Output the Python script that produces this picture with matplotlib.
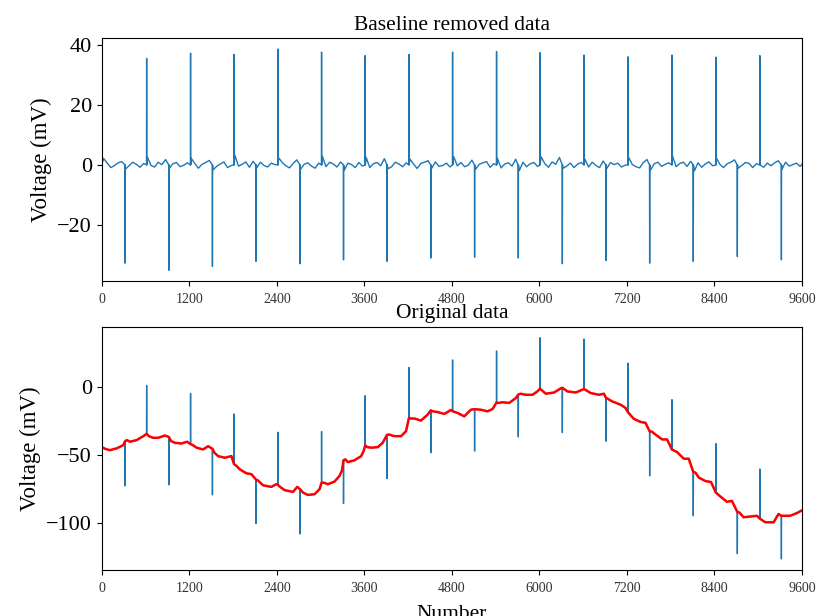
import matplotlib
matplotlib.use('Agg')
import matplotlib.pyplot as plt
import numpy as np

plt.rcParams['font.family'] = 'Liberation Serif'

# spikes in the baseline removed signal (sample number, mV)
pos_x = [0, 616, 1218, 1814, 2416, 3014, 3612, 4213, 4810, 5413, 6008, 6612, 7215, 7818, 8419, 9023]
pos_h = [38.0, 35.7, 37.4, 37.0, 38.8, 37.8, 36.6, 37.0, 37.8, 38.0, 37.6, 36.8, 36.2, 36.8, 36.1, 36.6]
neg_x = [319, 921, 1518, 2115, 2717, 3315, 3912, 4512, 5112, 5711, 6315, 6913, 7512, 8110, 8714, 9318]
neg_h = [-32.9, -35.3, -34.0, -32.3, -33.1, -31.8, -32.3, -31.2, -30.9, -31.2, -33.1, -32.0, -32.9, -32.3, -30.7, -31.8]

# small wiggle between spikes, one value every 50 samples from 25 on
noise_x = np.arange(25, 9600, 50)
noise = [
    2.2, 0.6, -0.9, -0.2, 0.7, 1.1, -1.4, -0.3, 0.9, 0.2, -0.8, 0.5,
    2.7, -0.2, -0.7, 0.9, 0.1, 1.8, -1.2, 0.4, 0.8, -0.6, -0.1, 0.7,
    2.3, 0.5, -1.1, 0.2, 0.8, 1.5, -1.7, -0.5, 0.3, 1.0, -0.9, -0.2,
    3.3, -0.4, 0.2, 1.0, -0.8, 1.2, -1.0, 0.9, -0.2, -0.7, 0.6, 0.1,
    2.4, 0.8, -0.3, -1.0, 0.5, 1.7, -1.5, 0.2, 0.7, -0.4, -1.1, 0.6,
    2.9, -0.6, 0.9, 0.3, -0.7, 1.0, -1.8, 0.6, 0.1, -0.9, 0.8, -0.4,
    2.5, -0.9, 0.4, 0.8, -0.3, 2.1, -1.3, -0.6, 0.9, 0.3, -0.6, 0.7,
    2.0, 0.3, -1.2, 0.5, 0.9, 1.4, -1.1, 1.0, -0.5, -0.2, 0.6, -0.7,
    2.8, -0.3, 0.8, -0.6, -0.1, 1.6, -1.5, 0.2, 0.7, 1.1, -0.8, 0.4,
    2.2, -1.0, 0.3, 0.7, -0.4, 1.9, -1.9, 0.9, -0.6, 0.4, 0.8, -0.5,
    2.7, 0.4, -0.8, 1.0, 0.2, 2.5, -1.1, -0.4, 0.6, -0.9, 0.3, 0.8,
    1.9, -0.7, 0.9, -0.2, -0.9, 1.3, -1.2, 0.8, 0.1, 0.6, -0.7, -0.1,
    2.5, 0.1, -0.6, -1.0, 0.8, 1.8, -1.7, 0.4, 0.9, -0.5, 0.2, 0.7,
    3.0, -0.6, 0.5, 0.9, -0.5, 1.2, -2.0, 0.7, -0.8, 0.3, 1.0, -0.3,
    2.4, 0.2, -0.9, 0.4, 0.9, 1.7, -1.1, -0.2, 0.8, 0.5, -0.9, 0.4,
    2.7, -0.8, 0.6, -0.3, 0.7, 1.4, -1.5, 0.9, -0.4, 0.1, 0.6, -0.5,
]

# estimated baseline of the original recording
base_x = [0, 60, 114, 205, 296, 319, 345, 387, 479, 570, 616, 650, 706, 774, 866, 921, 950,
          1003, 1094, 1171, 1218, 1250, 1300, 1390, 1458, 1518, 1545, 1595, 1687, 1778, 1814,
          1840, 1892, 1984, 2052, 2115, 2140, 2211, 2325, 2394, 2416, 2450, 2508, 2622, 2681,
          2717, 2760, 2826, 2918, 2986, 3014, 3040, 3100, 3191, 3260, 3295, 3315, 3340, 3374,
          3465, 3557, 3590, 3612, 3640, 3694, 3784, 3852, 3912, 3940, 4012, 4104, 4172, 4213,
          4240, 4286, 4377, 4468, 4512, 4540, 4605, 4696, 4788, 4810, 4879, 4970, 5061, 5112,
          5198, 5289, 5358, 5413, 5440, 5494, 5586, 5677, 5711, 5740, 5814, 5905, 5973, 6008,
          6088, 6202, 6293, 6315, 6384, 6498, 6589, 6612, 6703, 6817, 6885, 6913, 6999, 7113,
          7181, 7215, 7296, 7387, 7455, 7512, 7540, 7592, 7683, 7751, 7818, 7888, 7979, 8048,
          8110, 8140, 8185, 8276, 8353, 8419, 8481, 8572, 8640, 8714, 8740, 8800, 8914, 8982,
          9023, 9097, 9211, 9279, 9318, 9439, 9530, 9600]
base_y = [-44.0, -45.5, -46.2, -44.9, -42.5, -39.7, -38.8, -40.0, -38.8, -35.9, -34.2, -36.0,
          -37.1, -37.1, -35.4, -36.5, -39.5, -40.8, -41.3, -40.0, -41.8, -42.5, -44.4, -45.7,
          -43.3, -45.2, -48.1, -50.6, -51.8, -50.6, -56.5, -57.5, -60.3, -63.3, -63.9, -67.9,
          -68.5, -72.1, -73.3, -71.3, -71.8, -73.5, -75.7, -77.0, -73.3, -74.9, -77.5, -79.2,
          -78.7, -75.0, -70.3, -70.1, -71.3, -69.4, -65.2, -61.1, -53.7, -53.0, -55.0, -53.7,
          -50.6, -47.0, -42.7, -44.0, -44.4, -44.0, -40.8, -34.9, -34.7, -35.9, -35.9, -32.2,
          -22.3, -22.9, -22.9, -24.4, -20.0, -16.9, -17.6, -18.1, -19.5, -16.6, -17.5, -18.8,
          -21.3, -16.4, -16.0, -16.4, -17.6, -15.9, -11.1, -11.4, -10.9, -11.4, -7.8, -5.2,
          -4.6, -5.4, -5.4, -2.9, -0.9, -4.6, -3.7, -0.7, -0.2, -2.9, -3.7, -1.7, -1.1, -4.1,
          -5.4, -4.6, -7.6, -10.3, -12.7, -15.1, -18.3, -23.2, -25.4, -26.1, -32.3, -32.5,
          -34.7, -38.3, -38.3, -45.8, -47.6, -52.5, -52.5, -62.3, -62.8, -66.4, -69.0, -69.7,
          -77.4, -80.4, -84.3, -83.6, -91.8, -92.1, -95.7, -95.0, -94.6, -96.7, -99.4, -99.4,
          -93.3, -94.6, -94.6, -92.6, -90.6]

spike_x = pos_x + neg_x
spike_h = pos_h + neg_h
spikes = dict(zip(spike_x, spike_h))

# baseline removed trace
tx = list(noise_x) + [9600]
ty = list(noise) + [0.2]
for p, h in zip(spike_x, spike_h):
    tx += [p - 2, p, p + 2]
    ty += [0.0, h, 0.0]
order = np.argsort(tx, kind='stable')
tx = np.array(tx)[order]
ty = np.array(ty)[order]

# original trace = baseline + spikes
ox, oy = [], []
for x, y in zip(base_x, base_y):
    if x in spikes:
        ox += [x - 2, x, x + 2]
        oy += [y, y + spikes[x], y]
    else:
        ox.append(x)
        oy.append(y)

fig, (ax1, ax2) = plt.subplots(2, 1, figsize=(8.19, 6.16), dpi=100)
fig.subplots_adjust(left=0.1242, right=0.9792, top=0.9383, bottom=0.0747, hspace=0.186)

ax1.plot(tx, ty, color='#1f77b4', lw=1.0)
ax1.set_title('Baseline removed data', fontsize=15.5)
ax1.set_ylabel('Voltage (mV)', fontsize=16.5)

ax2.plot(ox, oy, color='#1f77b4', lw=1.0)
ax2.plot(base_x, base_y, color='red', lw=1.8)
ax2.set_title('Original data', fontsize=15.5)
ax2.set_ylabel('Voltage (mV)', fontsize=16.5)
ax2.set_xlabel('Number', fontsize=15.5)
ax2.xaxis.set_label_coords(0.5, -0.142)

for ax in (ax1, ax2):
    ax.set_xlim(0, 9600)
    ax.set_xticks(np.arange(0, 9601, 1200))
    ax.tick_params(axis='x', labelsize=10, pad=5, labelcolor='#333333')
    ax.tick_params(axis='y', labelsize=16)

fig.savefig('out.png')
